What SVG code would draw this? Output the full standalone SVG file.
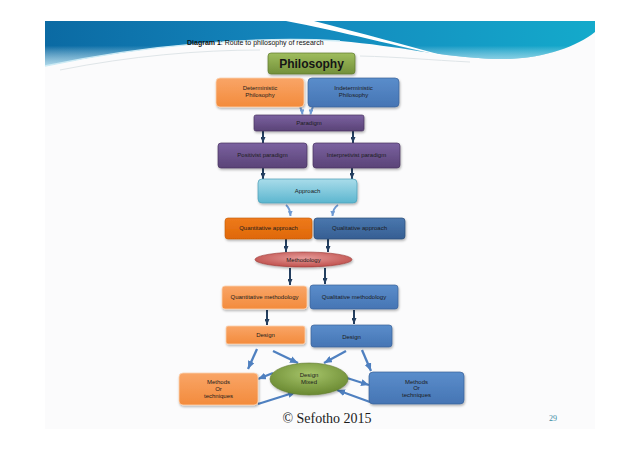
<svg xmlns="http://www.w3.org/2000/svg" width="638" height="452" viewBox="0 0 638 452">
<defs>
<linearGradient id="gBan" x1="0" y1="0" x2="1" y2="0">
<stop offset="0" stop-color="#0b6aa3"/><stop offset="0.45" stop-color="#1487bd"/><stop offset="1" stop-color="#14aacb"/>
</linearGradient>
<linearGradient id="gBanV" x1="0" y1="0" x2="0" y2="1">
<stop offset="0" stop-color="#ffffff" stop-opacity="0"/><stop offset="0.55" stop-color="#ffffff" stop-opacity="0"/><stop offset="1" stop-color="#bfe6f3" stop-opacity="0.9"/>
</linearGradient>
<linearGradient id="gOr" x1="0" y1="0" x2="0" y2="1"><stop offset="0" stop-color="#f9a567"/><stop offset="1" stop-color="#f38b3c"/></linearGradient>
<linearGradient id="gOr2" x1="0" y1="0" x2="0" y2="1"><stop offset="0" stop-color="#ee7a1c"/><stop offset="1" stop-color="#df6808"/></linearGradient>
<linearGradient id="gBl" x1="0" y1="0" x2="0" y2="1"><stop offset="0" stop-color="#5a8dcb"/><stop offset="1" stop-color="#4675b4"/></linearGradient>
<linearGradient id="gBl2" x1="0" y1="0" x2="0" y2="1"><stop offset="0" stop-color="#4a77ae"/><stop offset="1" stop-color="#365f93"/></linearGradient>
<linearGradient id="gPu" x1="0" y1="0" x2="0" y2="1"><stop offset="0" stop-color="#7b62a0"/><stop offset="1" stop-color="#5a4377"/></linearGradient>
<linearGradient id="gCy" x1="0" y1="0" x2="0" y2="1"><stop offset="0" stop-color="#a9dcea"/><stop offset="1" stop-color="#5cb6cf"/></linearGradient>
<linearGradient id="gGr" x1="0" y1="0" x2="0" y2="1"><stop offset="0" stop-color="#9fbd5e"/><stop offset="1" stop-color="#73903a"/></linearGradient>
<radialGradient id="gRed" cx="0.5" cy="0.4" r="0.6"><stop offset="0" stop-color="#e59a98"/><stop offset="1" stop-color="#c0504d"/></radialGradient>
<radialGradient id="gMix" cx="0.5" cy="0.35" r="0.6"><stop offset="0" stop-color="#a6c46a"/><stop offset="1" stop-color="#6e8d35"/></radialGradient>
<filter id="sh" x="-10%" y="-20%" width="125%" height="150%">
<feDropShadow dx="0.8" dy="1.5" stdDeviation="0.9" flood-color="#000" flood-opacity="0.3"/>
</filter>
<marker id="mNavy" viewBox="0 0 6 5" refX="6" refY="2.5" markerWidth="6" markerHeight="5" markerUnits="userSpaceOnUse" orient="auto">
<path d="M0,0 L6,2.5 L0,5 Z" fill="#243f60"/>
</marker>
<marker id="mLb" viewBox="0 0 6 6" refX="6" refY="3" markerWidth="5" markerHeight="5" markerUnits="userSpaceOnUse" orient="auto">
<path d="M0,0 L6,3 L0,6 Z" fill="#6e9ad3"/>
</marker>
<marker id="mSb" viewBox="0 0 8 7" refX="8" refY="3.5" markerWidth="8" markerHeight="7" markerUnits="userSpaceOnUse" orient="auto">
<path d="M0,0 L8,3.5 L0,7 Z" fill="#4f80c0"/>
</marker>
</defs>
<style>
text{font-family:"Liberation Sans",Arial,sans-serif;fill:#1c1c1c;font-size:6px;text-anchor:middle}
.or{fill:url(#gOr);stroke:#fbd2b0;stroke-width:0.8}
.or2{fill:url(#gOr2);stroke:#c55a05;stroke-width:0.6}
.bl{fill:url(#gBl);stroke:#3a629a;stroke-width:0.7}
.bl2{fill:url(#gBl2);stroke:#2b4d78;stroke-width:0.7}
.pu{fill:url(#gPu);stroke:#473460;stroke-width:0.7}
.cy{fill:url(#gCy);stroke:#4b9fb8;stroke-width:0.7}
.gr{fill:url(#gGr);stroke:#5f7a2f;stroke-width:0.7}
.nv{stroke:#243f60;stroke-width:2;fill:none;marker-end:url(#mNavy)}
.lb{stroke:#6e9ad3;stroke-width:2;fill:none;marker-end:url(#mLb)}
.sb{stroke:#4f80c0;stroke-width:2.3;fill:none;marker-end:url(#mSb)}
</style>
<rect x="0" y="0" width="638" height="452" fill="#ffffff"/>
<rect x="45" y="21" width="550" height="408" fill="#fbfbfc"/>
<!-- banner -->
<g id="banner">
<path d="M45,21 H595 V32 C575,48 540,60 495,59 C440,57 400,46 340,41 C260,36 150,44 45,66 Z" fill="url(#gBan)"/>
<path d="M45,21 H595 V32 C575,48 540,60 495,59 C440,57 400,46 340,41 C260,36 150,44 45,66 Z" fill="url(#gBanV)"/>
<path d="M45,66 C150,44 260,36 340,41" fill="none" stroke="#cdebf5" stroke-width="1.5"/>
<path d="M286,21 L314,21 C360,33 410,46 448,57 C400,47 340,31 286,21 Z" fill="#ffffff"/>
<path d="M60,70 C130,56 200,50 260,50" fill="none" stroke="#dfe5e8" stroke-width="1"/>
<path d="M360,56 C400,57 430,60 470,62" fill="none" stroke="#dfe5e8" stroke-width="1"/>
</g>
<text x="187" y="45" style="text-anchor:start;font-size:7px;fill:#111"><tspan font-weight="bold">Diagram 1</tspan>: Route to philosophy of research</text>
<!-- connectors -->
<g id="connectors">
<path class="lb" d="M300,107 Q302,110 302.5,114.5"/>
<path class="lb" d="M313,107 Q311,110 310.5,114.5"/>
<line class="nv" x1="263" y1="131" x2="263" y2="143"/>
<line class="nv" x1="353" y1="131" x2="353" y2="143"/>
<line class="nv" x1="263" y1="168" x2="263" y2="179"/>
<line class="nv" x1="352" y1="168" x2="352" y2="179"/>
<path class="lb" d="M286,205 Q290,208 290.5,216"/>
<path class="lb" d="M338,205 Q333,208 332.5,216"/>
<line class="nv" x1="286" y1="239" x2="286" y2="252"/>
<line class="nv" x1="328" y1="239" x2="328" y2="252"/>
<line class="nv" x1="290" y1="268" x2="290" y2="285"/>
<line class="nv" x1="325" y1="268" x2="325" y2="284"/>
<line class="nv" x1="267" y1="310" x2="267" y2="325"/>
<line class="nv" x1="354" y1="310" x2="354" y2="324"/>
<line class="sb" x1="257" y1="349" x2="248" y2="369"/>
<line class="sb" x1="273" y1="351" x2="298" y2="363"/>
<line class="sb" x1="346" y1="351" x2="324" y2="363"/>
<line class="sb" x1="362" y1="350" x2="371" y2="371"/>
<line class="sb" x1="273" y1="373" x2="258" y2="379"/>
<line class="sb" x1="258" y1="404" x2="296" y2="392"/>
<line class="sb" x1="347" y1="378" x2="369" y2="385"/>
<line class="sb" x1="370" y1="402" x2="337" y2="390"/>
</g>
<!-- nodes -->
<g id="philosophy"><rect class="gr" x="268" y="53" width="87" height="21" rx="3" filter="url(#sh)"/><text x="311.5" y="68" style="font-size:12px;font-weight:bold;fill:#151515">Philosophy</text></g>
<g id="deterministic"><rect class="or" x="216" y="78" width="88" height="29" rx="4" filter="url(#sh)"/><text x="260" y="90">Deterministic</text><text x="260" y="97">Philosophy</text></g>
<g id="indeterministic"><rect class="bl" x="308" y="78" width="91" height="29" rx="4" filter="url(#sh)"/><text x="353.5" y="90">Indeterministic</text><text x="353.5" y="97">Philosophy</text></g>
<g id="paradigm"><rect class="pu" x="254" y="115" width="110" height="16" rx="2" filter="url(#sh)"/><text x="309" y="125">Paradigm</text></g>
<g id="positivist"><rect class="pu" x="218" y="143" width="89" height="25" rx="3" filter="url(#sh)"/><text x="262.5" y="157">Positivist paradigm</text></g>
<g id="interpretivist"><rect class="pu" x="313" y="143" width="87" height="25" rx="3" filter="url(#sh)"/><text x="356.5" y="157">Interpretivist paradigm</text></g>
<g id="approach"><rect class="cy" x="258" y="179" width="99" height="24" rx="4" filter="url(#sh)"/><text x="307.5" y="193">Approach</text></g>
<g id="quant-approach"><rect class="or2" x="225" y="218" width="87" height="21" rx="3" filter="url(#sh)"/><text x="268.5" y="230">Quantitative approach</text></g>
<g id="qual-approach"><rect class="bl2" x="314" y="218" width="91" height="21" rx="3" filter="url(#sh)"/><text x="359.5" y="230">Qualitative approach</text></g>
<g id="methodology"><ellipse cx="303.5" cy="259.5" rx="48.5" ry="7.5" fill="url(#gRed)" stroke="#9c3a38" stroke-width="0.6" filter="url(#sh)"/><text x="303.5" y="261.5">Methodology</text></g>
<g id="quant-method"><rect class="or" x="222" y="286" width="85" height="23" rx="3" filter="url(#sh)"/><text x="264.5" y="299">Quantitative methodology</text></g>
<g id="qual-method"><rect class="bl" x="310" y="285" width="88" height="24" rx="3" filter="url(#sh)"/><text x="354" y="299">Qualitative methodology</text></g>
<g id="design-left"><rect class="or" x="226" y="326" width="79" height="18" rx="2" filter="url(#sh)"/><text x="265.5" y="337">Design</text></g>
<g id="design-right"><rect class="bl" x="311" y="325" width="81" height="22" rx="3" filter="url(#sh)"/><text x="351.5" y="339">Design</text></g>
<g id="design-mixed"><ellipse cx="309" cy="379" rx="39" ry="16" fill="url(#gMix)" stroke="#5f7a2f" stroke-width="0.6" filter="url(#sh)"/><text x="309" y="377">Design</text><text x="309" y="383.5">Mixed</text></g>
<g id="methods-left"><rect class="or" x="179" y="373" width="79" height="32" rx="4" filter="url(#sh)"/><text x="218.5" y="384">Methods</text><text x="218.5" y="390.5">Or</text><text x="218.5" y="397.5">techniques</text></g>
<g id="methods-right"><rect class="bl" x="369" y="372" width="95" height="32" rx="4" filter="url(#sh)"/><text x="416.5" y="383.5">Methods</text><text x="416.5" y="390">Or</text><text x="416.5" y="397">techniques</text></g>
<text x="327" y="423" style="font-family:'Liberation Serif','Times New Roman',serif;font-size:14px;fill:#1a1a1a">© Sefotho 2015</text>
<text x="553" y="421" style="font-family:'Liberation Serif','Times New Roman',serif;font-size:8px;fill:#3a8aa3">29</text>
</svg>
